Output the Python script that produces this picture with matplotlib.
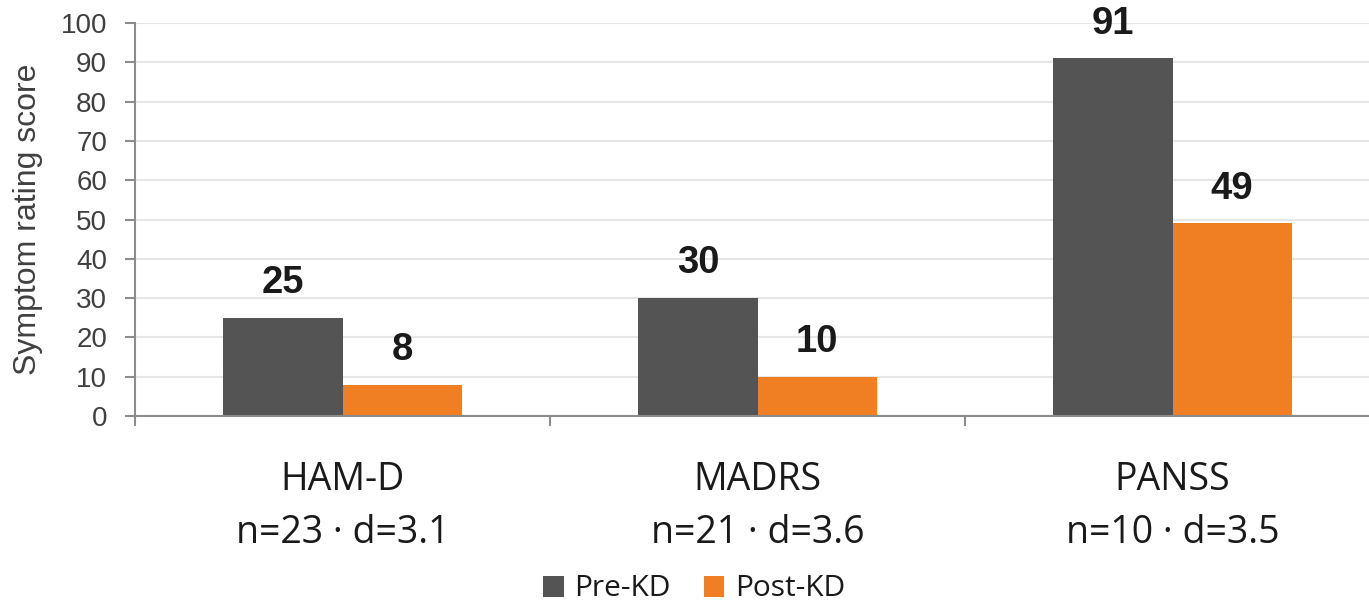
import matplotlib.pyplot as plt
import numpy as np

categories = ['HAM-D\nn=23 · d=3.1', 'MADRS\nn=21 · d=3.6', 'PANSS\nn=10 · d=3.5']
pre_kd = [25, 30, 91]
post_kd = [8, 10, 49]
series_names = ['Pre-KD', 'Post-KD']
colors = ['#545454', '#F07E22']

fig = plt.figure(figsize=(13.69, 6.01), dpi=100)
ax = fig.add_axes([135 / 1369, 1 - 416 / 601, 1245 / 1369, (416 - 23) / 601])

x = np.arange(len(categories))
w = 0.287
b1 = ax.bar(x - w / 2, pre_kd, w, color=colors[0], label=series_names[0], zorder=2)
b2 = ax.bar(x + w / 2, post_kd, w, color=colors[1], label=series_names[1], zorder=2)

# value labels above each bar
for bars, vals in ((b1, pre_kd), (b2, post_kd)):
    for rect, v in zip(bars, vals):
        ax.annotate(str(v), (rect.get_x() + rect.get_width() / 2, v),
                    xytext=(0, 12), textcoords='offset points',
                    ha='center', va='bottom', fontsize=27.5, fontweight='bold',
                    family='Liberation Sans', color='#1a1a1a')

ax.set_xlim(-0.5, len(categories) - 0.5)
ax.set_ylim(0, 100)
ax.set_yticks(range(0, 101, 10))
ax.yaxis.grid(True, color='#e6e6e6', linewidth=1.5, zorder=0)
ax.set_axisbelow(True)

for s in ('top', 'right'):
    ax.spines[s].set_visible(False)
for s in ('left', 'bottom'):
    ax.spines[s].set_color('#8c8c8c')
    ax.spines[s].set_linewidth(1.5)

ax.tick_params(axis='y', length=7, width=1.5, color='#8c8c8c', labelsize=20,
               labelcolor='#404040', pad=13)
for lbl in ax.get_yticklabels():
    lbl.set_family('Liberation Sans')

# category labels between boundary ticks
ax.set_xticks(np.arange(-0.5, len(categories), 1.0))
ax.set_xticklabels([])
ax.tick_params(axis='x', length=7, width=1.5, color='#8c8c8c')
for i, c in enumerate(categories):
    ax.text(i, -11.5, c, ha='center', va='top', fontsize=27, family='Open Sans',
            color='#1a1a1a', linespacing=1.5,
            transform=ax.transData)

ax.set_ylabel('Symptom rating score', fontsize=23, family='Liberation Sans',
              color='#404040')
ax.yaxis.set_label_coords(-0.074, 0.5)

fig.legend(handles=[b1, b2], labels=series_names, loc='center',
           bbox_to_anchor=(694 / 1369, 1 - 589 / 601), ncol=2, frameon=False,
           prop={'family': 'Open Sans', 'size': 21.5}, handlelength=0.7,
           handleheight=0.7, handletextpad=0.35, columnspacing=1.1,
           labelcolor='#1a1a1a')

fig.savefig('out.png', dpi=100)
